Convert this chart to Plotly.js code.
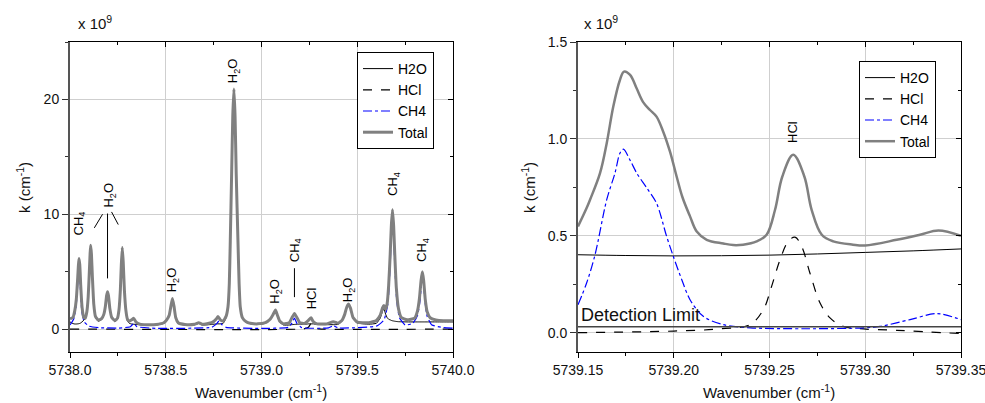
<!DOCTYPE html>
<html>
<head>
<meta charset="utf-8">
<script src="https://cdn.plot.ly/plotly-3.0.1.min.js"></script>
<style>html,body{margin:0;padding:0;background:#fff;}#chart{width:985px;height:403px;}</style>
</head>
<body>
<div id="chart"></div>
<script>
// ---------- Left panel data (x 1e9, cm^-1) ----------
const wnL = [5738.000,5738.015,5738.025,5738.033,5738.040,5738.044,5738.047,5738.051,5738.056,5738.063,5738.072,5738.080,5738.088,5738.095,5738.101,5738.105,5738.108,5738.112,5738.117,5738.124,5738.133,5738.147,5738.165,5738.177,5738.185,5738.191,5738.196,5738.201,5738.208,5738.218,5738.234,5738.248,5738.256,5738.263,5738.268,5738.273,5738.278,5738.284,5738.292,5738.300,5738.310,5738.322,5738.333,5738.345,5738.365,5738.400,5738.450,5738.490,5738.505,5738.518,5738.527,5738.535,5738.543,5738.552,5738.565,5738.600,5738.650,5738.672,5738.690,5738.740,5738.765,5738.773,5738.785,5738.800,5738.815,5738.825,5738.832,5738.837,5738.844,5738.850,5738.856,5738.862,5738.868,5738.877,5738.883,5738.889,5738.900,5738.920,5738.950,5738.980,5739.020,5739.045,5739.060,5739.073,5739.083,5739.095,5739.115,5739.145,5739.158,5739.172,5739.185,5739.200,5739.225,5739.245,5739.259,5739.270,5739.290,5739.340,5739.375,5739.400,5739.420,5739.435,5739.445,5739.455,5739.465,5739.478,5739.500,5739.560,5739.600,5739.620,5739.632,5739.639,5739.648,5739.656,5739.664,5739.672,5739.678,5739.684,5739.690,5739.696,5739.704,5739.715,5739.730,5739.760,5739.800,5739.815,5739.825,5739.833,5739.840,5739.847,5739.855,5739.865,5739.880,5739.910,5739.950,5740.000];
const totalL = [0.90,1.00,1.60,2.60,4.40,5.60,6.15,5.60,3.80,1.90,1.00,0.95,1.50,2.80,5.00,6.60,7.30,6.50,4.50,2.20,1.10,0.78,0.90,1.30,2.00,2.90,3.25,2.90,1.80,1.00,0.73,0.95,1.70,3.40,5.60,7.10,5.80,3.40,1.60,0.85,0.68,0.80,0.93,0.60,0.43,0.38,0.40,0.55,0.80,1.20,2.00,2.67,2.00,1.00,0.55,0.40,0.42,0.55,0.42,0.55,0.90,1.10,0.80,0.70,1.10,1.94,4.00,7.70,13.5,18.5,20.9,18.5,13.5,7.70,4.00,1.94,1.00,0.64,0.48,0.45,0.55,0.85,1.25,1.65,1.20,0.70,0.45,0.55,0.95,1.36,1.00,0.55,0.48,0.75,0.99,0.65,0.45,0.45,0.64,0.50,0.75,1.30,1.90,2.17,1.80,1.00,0.60,0.55,0.75,1.20,1.85,2.06,1.70,2.20,3.80,6.50,9.00,10.4,9.00,6.50,3.60,1.80,1.00,0.80,0.95,1.60,2.70,4.20,4.98,4.20,2.60,1.50,1.00,0.80,0.72,0.72];
const h2oL = [0.62,0.48,0.44,0.44,0.45,0.46,0.47,0.49,0.53,0.62,0.78,0.90,1.45,2.75,4.95,6.55,7.25,6.45,4.45,2.12,1.02,0.68,0.82,1.22,1.92,2.82,3.17,2.82,1.72,0.92,0.65,0.87,1.62,3.32,5.52,7.02,5.72,3.30,1.45,0.68,0.50,0.44,0.42,0.40,0.37,0.33,0.34,0.49,0.74,1.14,1.94,2.61,1.94,0.94,0.49,0.34,0.36,0.49,0.35,0.40,0.45,0.45,0.45,0.50,0.98,1.86,3.93,7.63,13.43,18.43,20.83,18.43,13.43,7.63,3.93,1.87,0.93,0.57,0.42,0.39,0.49,0.79,1.19,1.59,1.12,0.60,0.35,0.35,0.38,0.40,0.42,0.42,0.40,0.45,0.45,0.45,0.40,0.38,0.38,0.40,0.68,1.23,1.83,2.10,1.73,0.93,0.53,0.42,0.50,0.95,1.55,1.80,1.30,1.00,0.85,0.80,0.75,0.72,0.70,0.68,0.66,0.64,0.63,0.62,0.62,0.62,0.62,0.62,0.62,0.62,0.62,0.62,0.62,0.62,0.62,0.62];
const wnCH4L = [5738.000,5738.020,5738.032,5738.040,5738.047,5738.054,5738.062,5738.075,5738.100,5738.150,5738.250,5738.315,5738.333,5738.350,5738.450,5738.740,5738.765,5738.778,5738.792,5738.815,5739.000,5739.140,5739.160,5739.172,5739.185,5739.210,5739.350,5739.375,5739.400,5739.600,5739.640,5739.660,5739.672,5739.678,5739.684,5739.690,5739.696,5739.706,5739.720,5739.750,5739.790,5739.815,5739.828,5739.835,5739.840,5739.846,5739.853,5739.865,5739.890,5739.950,5740.000];
const ch4L = [0.35,0.90,2.00,3.80,5.60,3.60,1.50,0.60,0.25,0.12,0.08,0.20,0.50,0.20,0.06,0.15,0.45,0.70,0.40,0.15,0.06,0.15,0.55,0.95,0.50,0.12,0.10,0.30,0.10,0.25,0.80,2.20,5.50,8.40,9.80,8.40,5.50,2.50,1.00,0.35,0.50,1.20,2.50,3.90,4.50,3.90,2.50,1.10,0.35,0.12,0.08];
const wnHClL = [5738.000,5739.220,5739.245,5739.259,5739.273,5739.300,5740.000];
const hclL = [0.00,0.01,0.15,0.50,0.15,0.01,0.00];
const tickValsL = [5738.0,5738.5,5739.0,5739.5,5740.0];
const tickTextL = ['5738.0','5738.5','5739.0','5739.5','5740.0'];

// ---------- Right panel data (x 1e9, cm^-1) ----------
const wnTotR = [5739.150,5739.1545,5739.1563,5739.1615,5739.165,5739.1684,5739.1719,5739.174,5739.1772,5739.1806,5739.184,5739.1876,5739.191,5739.1945,5739.198,5739.2015,5739.2045,5739.2085,5739.212,5739.2172,5739.2259,5739.231,5739.2362,5739.2433,5739.2485,5739.2529,5739.2567,5739.2624,5739.2682,5739.272,5739.2773,5739.2833,5739.2936,5739.300,5739.3164,5739.3286,5739.3382,5739.350];
const totalR = [0.548,0.643,0.686,0.823,0.978,1.166,1.304,1.347,1.33,1.261,1.19,1.149,1.115,1.037,0.935,0.806,0.70,0.60,0.522,0.479,0.46,0.452,0.454,0.471,0.505,0.634,0.806,0.918,0.806,0.634,0.505,0.471,0.454,0.45,0.479,0.505,0.527,0.50];
const wnH2OR = [5739.150,5739.175,5739.200,5739.225,5739.250,5739.275,5739.300,5739.325,5739.350];
const h2oR = [0.402,0.398,0.396,0.397,0.400,0.406,0.414,0.422,0.432];
const wnHClR = [5739.150,5739.200,5739.225,5739.2398,5739.2468,5739.2511,5739.2555,5739.2598,5739.2633,5739.2668,5739.2711,5739.2764,5739.2816,5739.2885,5739.299,5739.3164,5739.350];
const hclR = [0.000,0.008,0.020,0.041,0.119,0.239,0.376,0.471,0.493,0.445,0.308,0.153,0.076,0.032,0.019,0.012,-0.005];
const wnCH4R = [5739.150,5739.1545,5739.1589,5739.165,5739.1693,5739.1719,5739.1737,5739.1772,5739.1807,5739.1859,5739.191,5739.1963,5739.1998,5739.2042,5739.2085,5739.2154,5739.2259,5739.240,5739.270,5739.300,5739.3077,5739.3234,5739.3373,5739.350];
const ch4R = [0.144,0.256,0.402,0.686,0.823,0.926,0.947,0.89,0.823,0.747,0.668,0.496,0.393,0.273,0.17,0.084,0.041,0.025,0.020,0.025,0.032,0.067,0.098,0.067];
const detectionLimit = 0.03;
const tickValsR = [5739.15,5739.20,5739.25,5739.30,5739.35];
const tickTextR = ['5739.15','5739.20','5739.25','5739.30','5739.35'];

const seriesNames = ['H2O','HCl','CH4','Total'];
const FONT = 'Liberation Sans, Arial, Helvetica, sans-serif';

const sH2O = {color:'#000', width:1, dash:'solid'};
const sHCl = {color:'#000', width:1.2, dash:'dash'};
const sCH4 = {color:'#0000ff', width:1.2, dash:'dashdot'};
const sTot = {color:'#808080', width:3, dash:'solid'};

function tr(x, y, name, line, xa, ya, leg, smooth) {
  return {x:x, y:y, name:name, type:'scatter', mode:'lines', line:Object.assign({shape:'spline', smoothing:smooth}, line),
          xaxis:xa, yaxis:ya, legend:leg, showlegend:true, hoverinfo:'skip'};
}

const data = [
  tr(wnL, h2oL, seriesNames[0], sH2O, 'x', 'y', 'legend', 0.4),
  tr(wnHClL, hclL, seriesNames[1], sHCl, 'x', 'y', 'legend', 0.4),
  tr(wnCH4L, ch4L, seriesNames[2], sCH4, 'x', 'y', 'legend', 0.4),
  tr(wnL, totalL, seriesNames[3], sTot, 'x', 'y', 'legend', 0.4),
  tr(wnH2OR, h2oR, seriesNames[0], sH2O, 'x2', 'y2', 'legend2', 1),
  tr(wnHClR, hclR, seriesNames[1], sHCl, 'x2', 'y2', 'legend2', 1),
  tr(wnCH4R, ch4R, seriesNames[2], sCH4, 'x2', 'y2', 'legend2', 0.9),
  tr(wnTotR, totalR, seriesNames[3], Object.assign({}, sTot, {width:2.5}), 'x2', 'y2', 'legend2', 1),
  {x:[], y:[], xaxis:'x3', yaxis:'y', showlegend:false, type:'scatter'},
  {x:[], y:[], xaxis:'x', yaxis:'y3', showlegend:false, type:'scatter'},
  {x:[], y:[], xaxis:'x4', yaxis:'y2', showlegend:false, type:'scatter'},
  {x:[], y:[], xaxis:'x2', yaxis:'y4', showlegend:false, type:'scatter'}
];

const W = 985, H = 403;
const dxL = [70/W, 453/W], dxR = [578/W, 961/W], dy = [1-352/H, 1-42/H];
const xRangeL = [5738.0, 5740.0], yRangeL = [-2, 25];
const xRangeR = [5739.15, 5739.35], yRangeR = [-0.1, 1.5];
const tickFont = {family:FONT, size:14, color:'#111'};

function mainX(domain, range, tv, tt, minor, anchor) {
  return {domain:domain, range:range, anchor:anchor, tickmode:'array', tickvals:tv, ticktext:tt, ticklabeloverflow:'allow',
    showline:true, linecolor:'#000', linewidth:1.2, ticks:'outside', ticklen:5, tickcolor:'#000', tickwidth:1,
    minor:{tickmode:'linear', tick0:tv[0], dtick:minor, ticks:'outside', ticklen:3, tickcolor:'#000', showgrid:false},
    showgrid:true, gridcolor:'#cfcfcf', gridwidth:1, zeroline:false, tickfont:tickFont, mirror:false, fixedrange:true};
}
function mainY(domain, range, tick0, dtick, minor, fmt, anchor) {
  return {domain:domain, range:range, anchor:anchor, tickmode:'linear', tick0:tick0, dtick:dtick, tickformat:fmt, ticklabeloverflow:'allow',
    showline:true, linecolor:'#555', linewidth:2, ticks:'outside', ticklen:6, tickcolor:'#333', tickwidth:1,
    minor:{dtick:minor, ticks:'outside', ticklen:3, tickcolor:'#333', showgrid:false},
    showgrid:true, gridcolor:'#cfcfcf', gridwidth:1, zeroline:false, tickfont:tickFont, mirror:false, fixedrange:true};
}
function overX(over, anchor, range, tv, minor) {
  return {overlaying:over, anchor:anchor, side:'top', range:range, tickmode:'array', tickvals:tv,
    showline:true, linecolor:'#000', linewidth:1.2, ticks:'inside', ticklen:5, tickcolor:'#000',
    minor:{tickmode:'linear', tick0:tv[0], dtick:minor, ticks:'inside', ticklen:3, tickcolor:'#000', showgrid:false},
    showticklabels:false, showgrid:false, zeroline:false, fixedrange:true};
}
function overY(over, anchor, range, tick0, dtick, minor) {
  return {overlaying:over, anchor:anchor, side:'right', range:range, tickmode:'linear', tick0:tick0, dtick:dtick,
    showline:true, linecolor:'#000', linewidth:1.2, ticks:'inside', ticklen:5, tickcolor:'#000',
    minor:{dtick:minor, ticks:'inside', ticklen:3, tickcolor:'#000', showgrid:false},
    showticklabels:false, showgrid:false, zeroline:false, fixedrange:true};
}

const lab = (text, x, y, xref, yref) => ({text:text, x:x, y:y, xref:xref, yref:yref, showarrow:false, textangle:-90,
  font:{family:FONT, size:13, color:'#000'}, xanchor:'center', yanchor:'middle'});
const ptxt = (text, x, y, opts) => Object.assign({text:text, x:x, y:y, xref:'paper', yref:'paper', showarrow:false,
  font:{family:FONT, size:15, color:'#111'}}, opts || {});

const annotations = [
  lab('CH<sub>4</sub>', 5738.047, 9.2, 'x', 'y'),
  lab('H<sub>2</sub>O', 5738.208, 11.7, 'x', 'y'),
  lab('H<sub>2</sub>O', 5738.536, 4.3, 'x', 'y'),
  lab('H<sub>2</sub>O', 5738.854, 22.5, 'x', 'y'),
  lab('H<sub>2</sub>O', 5739.073, 3.3, 'x', 'y'),
  lab('CH<sub>4</sub>', 5739.177, 6.9, 'x', 'y'),
  lab('HCl', 5739.260, 2.7, 'x', 'y'),
  lab('H<sub>2</sub>O', 5739.453, 3.4, 'x', 'y'),
  lab('CH<sub>4</sub>', 5739.693, 12.65, 'x', 'y'),
  lab('CH<sub>4</sub>', 5739.844, 6.9, 'x', 'y'),
  lab('HCl', 5739.2623, 1.036, 'x2', 'y2'),
  {text:'Detection Limit', x:5739.15, y:detectionLimit, xref:'x2', yref:'y2', xanchor:'left', yanchor:'bottom', xshift:1,
   showarrow:false, font:{family:FONT, size:18, color:'#111'}},
  ptxt('x 10<sup>9</sup>', 76/W, 1-34/H, {xanchor:'left', yanchor:'bottom'}),
  ptxt('x 10<sup>9</sup>', 582/W, 1-34/H, {xanchor:'left', yanchor:'bottom'}),
  ptxt('Wavenumber (cm<sup>-1</sup>)', 260.5/W, 1-403/H, {xanchor:'center', yanchor:'bottom'}),
  ptxt('Wavenumber (cm<sup>-1</sup>)', 769/W, 1-403/H, {xanchor:'center', yanchor:'bottom'}),
  ptxt('k (cm<sup>-1</sup>)', 24/W, 1-188/H, {xanchor:'center', yanchor:'middle', textangle:-90}),
  ptxt('k (cm<sup>-1</sup>)', 529/W, 1-188/H, {xanchor:'center', yanchor:'middle', textangle:-90})
];

const seg = (x0, y0, x1, y1) => ({type:'line', xref:'x', yref:'y', x0:x0, y0:y0, x1:x1, y1:y1, line:{color:'#000', width:1}});
const shapes = [
  seg(5738.196, 10.06, 5738.196, 4.41),
  seg(5738.127, 8.81, 5738.170, 10.0),
  seg(5738.217, 10.2, 5738.252, 9.1),
  seg(5739.172, 5.3, 5739.172, 2.78),
  {type:'line', xref:'x2 domain', yref:'y2', x0:0, x1:1, y0:detectionLimit, y1:detectionLimit, line:{color:'#444', width:1.6}}
];

const legendBase = {xref:'paper', yref:'paper', xanchor:'left', yanchor:'top', bgcolor:'#fff', bordercolor:'#000', borderwidth:1,
  font:{family:FONT, size:14, color:'#000'}, tracegroupgap:0, itemwidth:30};

const layout = {
  width:W, height:H, margin:{l:0, r:0, t:0, b:0}, paper_bgcolor:'#fff', plot_bgcolor:'#fff',
  font:{family:FONT, color:'#111'},
  xaxis: mainX(dxL, xRangeL, tickValsL, tickTextL, 0.25, 'y'),
  yaxis: mainY(dy, yRangeL, 0, 10, 5, 'd', 'x'),
  xaxis2: mainX(dxR, xRangeR, tickValsR, tickTextR, 0.025, 'y2'),
  yaxis2: mainY(dy, yRangeR, 0, 0.5, 0.25, '.1f', 'x2'),
  xaxis3: overX('x', 'y', xRangeL, tickValsL, 0.25),
  yaxis3: overY('y', 'x', yRangeL, 0, 10, 5),
  xaxis4: overX('x2', 'y2', xRangeR, tickValsR, 0.025),
  yaxis4: overY('y2', 'x2', yRangeR, 0, 0.5, 0.25),
  legend: Object.assign({}, legendBase, {x:357/W, y:1-52/H}),
  legend2: Object.assign({}, legendBase, {x:859/W, y:1-61/H}),
  annotations: annotations,
  shapes: shapes,
  showlegend: true
};

Plotly.newPlot('chart', data, layout, {displayModeBar:false, staticPlot:true});
</script>
</body>
</html>
